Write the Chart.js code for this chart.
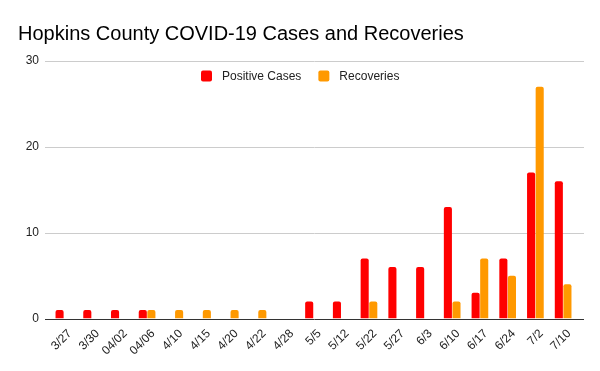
<!DOCTYPE html>
<html>
<head>
<meta charset="utf-8">
<script src="https://cdn.jsdelivr.net/npm/chart.js@4/dist/chart.umd.min.js"></script>
<style>
  html, body { margin: 0; padding: 0; background: #fff; }
  #wrap { width: 600px; height: 371px; }
</style>
</head>
<body>
<div id="wrap"><canvas id="myChart" width="600" height="371"></canvas></div>
<script>
'use strict';

let dates = ['3/27', '3/30', '04/02', '04/06', '4/10', '4/15', '4/20', '4/22', '4/28',
  '5/5', '5/12', '5/22', '5/27', '6/3', '6/10', '6/17', '6/24', '7/2', '7/10'];
let positiveCases = [1, 1, 1, 1, 0, 0, 0, 0, 0, 2, 2, 7, 6, 6, 13, 3, 7, 17, 16];
let recoveries = [0, 0, 0, 1, 1, 1, 1, 1, 0, 0, 0, 2, 0, 0, 2, 7, 5, 27, 4];
let yTicks = [0, 10, 20, 30];

let fontName = '"Liberation Sans", Arial, sans-serif';

// gridlines run a bit wider than the bars, so draw them by hand from the y scale
let wideGrid = {
  id: 'wideGrid',
  beforeDatasetsDraw(chart) {
    let ctx = chart.ctx;
    let yScale = chart.scales.y;
    ctx.save();
    yTicks.forEach(v => {
      let y = Math.round(yScale.getPixelForValue(v)) + 0.5;
      ctx.strokeStyle = v === 0 ? '#333' : '#ccc';
      ctx.lineWidth = 1;
      ctx.beginPath();
      ctx.moveTo(45, y);
      ctx.lineTo(584, y);
      ctx.stroke();
    });
    ctx.restore();
  }
};

// legend sits inside the plot area, like the google sheets chart
let insideLegend = {
  id: 'insideLegend',
  afterDraw(chart) {
    let ctx = chart.ctx;
    let sets = chart.data.datasets;
    ctx.save();
    ctx.font = '12px ' + fontName;
    ctx.textBaseline = 'middle';
    let box = 11;
    let gap = 10;
    let between = 17;
    let x = 201;
    let y = 76;
    sets.forEach(ds => {
      ctx.fillStyle = ds.backgroundColor;
      ctx.beginPath();
      ctx.roundRect(x, y - box / 2, box, box, 2);
      ctx.fill();
      x += box + gap;
      ctx.fillStyle = '#222';
      ctx.fillText(ds.label, x, y + 1);
      x += ctx.measureText(ds.label).width + between;
    });
    ctx.restore();
  }
};

let ctx = document.getElementById('myChart').getContext('2d');
let myChart = new Chart(ctx, {
  type: 'bar',
  data: {
    labels: dates,
    datasets: [{
      label: 'Positive Cases',
      data: positiveCases,
      backgroundColor: '#ff0000',
      borderRadius: { topLeft: 2, topRight: 2 },
      borderSkipped: 'start',
      categoryPercentage: 0.62,
      barPercentage: 0.94
    }, {
      label: 'Recoveries',
      data: recoveries,
      backgroundColor: '#ff9900',
      borderRadius: { topLeft: 2, topRight: 2 },
      borderSkipped: 'start',
      categoryPercentage: 0.62,
      barPercentage: 0.94
    }]
  },
  options: {
    responsive: false,
    animation: false,
    layout: { padding: { left: 18, right: 23, top: 0, bottom: 13 } },
    plugins: {
      legend: { display: false },
      tooltip: { enabled: false },
      title: {
        display: true,
        text: 'Hopkins County COVID-19 Cases and Recoveries',
        align: 'start',
        color: '#000',
        font: { family: fontName, size: 20, weight: 'normal' },
        padding: { top: 22, bottom: 15 }
      }
    },
    scales: {
      x: {
        grid: { display: false },
        border: { display: false },
        ticks: {
          color: '#222',
          font: { family: fontName, size: 12 },
          maxRotation: 45,
          minRotation: 45,
          autoSkip: false,
          labelOffset: 6,
          padding: 0
        }
      },
      y: {
        min: 0,
        max: yTicks[yTicks.length - 1],
        afterBuildTicks(scale) {
          scale.ticks = yTicks.map(v => ({ value: v }));
        },
        afterFit(scale) {
          scale.width = 32;
        },
        border: { display: false },
        grid: { display: false, drawTicks: false },
        ticks: {
          color: '#222',
          font: { family: fontName, size: 12 },
          padding: 11
        }
      }
    }
  },
  plugins: [wideGrid, insideLegend]
});
</script>
</body>
</html>
